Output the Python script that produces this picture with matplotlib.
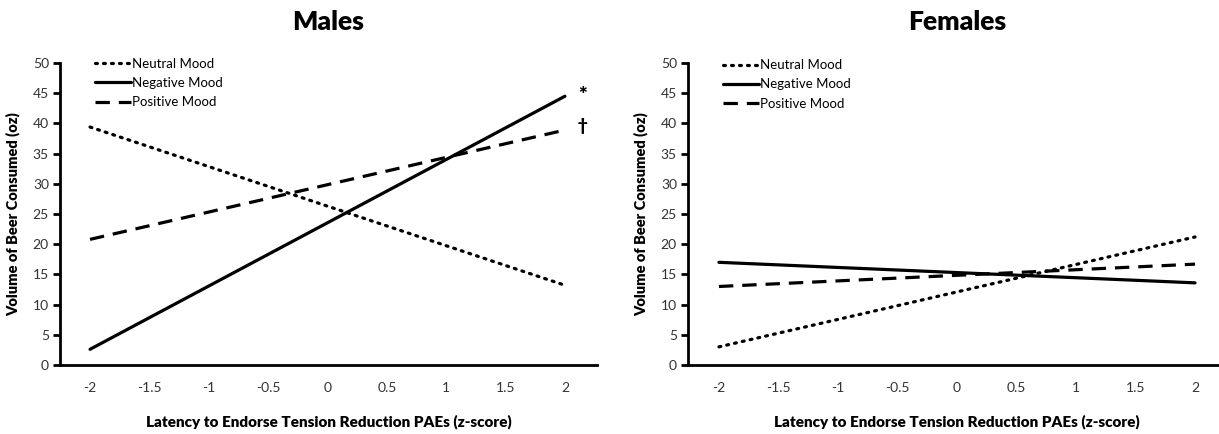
import matplotlib
matplotlib.use("Agg")
import matplotlib.pyplot as plt

plt.rcParams['font.family'] = ['Lato', 'DejaVu Sans']

x = [-2, 2]
male_neutral = [39.4, 13.2]
male_negative = [2.6, 44.5]
male_positive = [20.8, 38.9]
female_neutral = [3.0, 21.2]
female_negative = [17.0, 13.6]
female_positive = [13.0, 16.7]
series_names = ["Neutral Mood", "Negative Mood", "Positive Mood"]
xticks = [-2, -1.5, -1, -0.5, 0, 0.5, 1, 1.5, 2]
xticklabels = ["-2", "-1.5", "-1", "-0.5", "0", "0.5", "1", "1.5", "2"]
yticks = [0, 5, 10, 15, 20, 25, 30, 35, 40, 45, 50]
male_marks = [(2.15, 44.6, "*"), (2.15, 39.6, "\u2020")]

W, H = 1219, 434
fig = plt.figure(figsize=(W / 100, H / 100), dpi=100)

def px_axes(x0, x1, ytop, ybot):
    return fig.add_axes([x0 / W, 1 - ybot / H, (x1 - x0) / W, (ybot - ytop) / H])

ax1 = px_axes(60, 597, 63, 365)
ax2 = px_axes(688, 1226, 63, 365)

styles = [dict(linestyle=(0, (0.6, 1.9)), dash_capstyle='round', lw=2.3),
          dict(linestyle='-', lw=2.3),
          dict(linestyle=(0, (4.5, 2.8)), lw=2.3)]

def draw(ax, data, title, xlim, anchor_y):
    for d, st, name in zip(data, styles, series_names):
        ax.plot(x, d, color='black', label=name, solid_capstyle='round', **st)
    ax.set_xlim(*xlim)
    ax.set_ylim(0, 50)
    ax.set_xticks(xticks)
    ax.set_xticklabels(xticklabels)
    ax.set_yticks(yticks)
    for s in ['top', 'right']:
        ax.spines[s].set_visible(False)
    for s in ['left', 'bottom']:
        ax.spines[s].set_linewidth(2.0)
    ax.tick_params(axis='x', length=0, pad=12, labelsize=10, colors='#333333')
    ax.tick_params(axis='y', length=5, width=2.0, direction='out', pad=3, labelsize=10, colors='#333333')
    ax.tick_params(axis='both', color='black')
    ax.set_title(title, fontsize=19, fontweight='heavy', pad=24)
    ax.set_xlabel("Latency to Endorse Tension Reduction PAEs (z-score)", fontsize=11, fontweight='heavy', labelpad=15)
    ax.set_ylabel("Volume of Beer Consumed (oz)", fontsize=10.5, fontweight='heavy', labelpad=9)
    leg = ax.legend(loc='upper left', bbox_to_anchor=(0.055, anchor_y), frameon=False, fontsize=9.5,
                    handlelength=2.75, handletextpad=0.1, labelspacing=0.55, borderaxespad=0)
    return leg

draw(ax1, [male_neutral, male_negative, male_positive], "Males", (-2.253, 2.27), 1.035)
draw(ax2, [female_neutral, female_negative, female_positive], "Females", (-2.26, 2.26), 1.03)

for mx, my, mt in male_marks:
    ax1.text(mx, my, mt, fontsize=15 if mt == "*" else 12, fontweight='heavy', ha='center', va='center')

fig.savefig("out.png", dpi=100)
